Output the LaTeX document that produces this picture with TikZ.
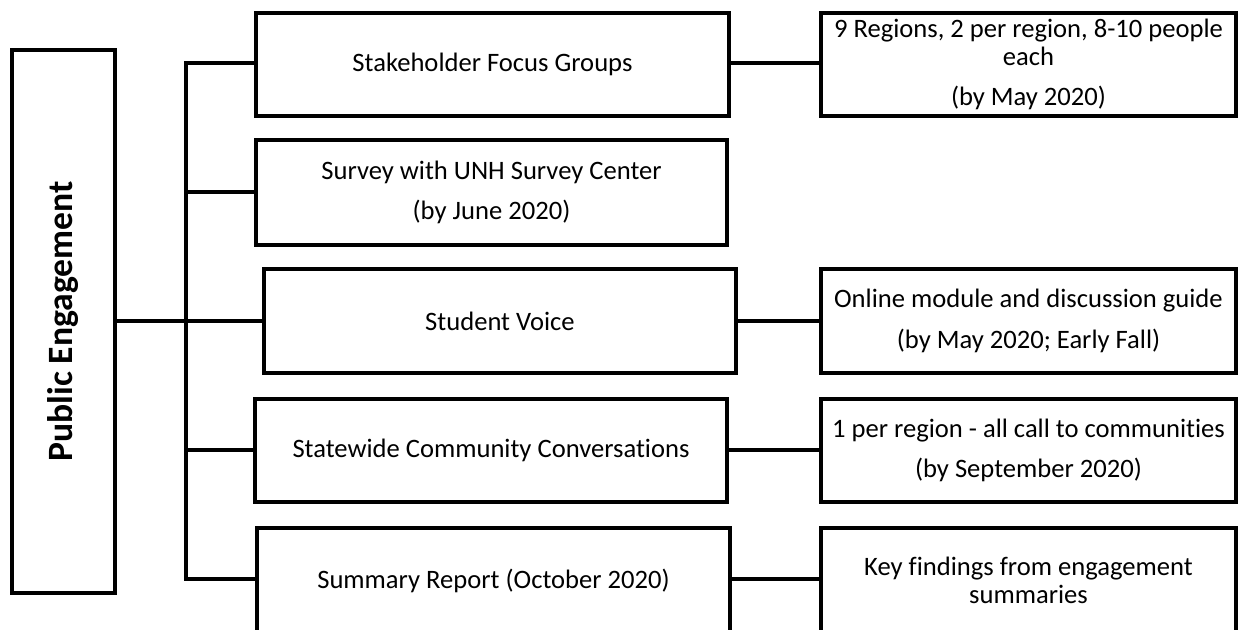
\documentclass[tikz,border=0pt]{standalone}
\usepackage{fontspec}
\setmainfont[Ligatures={NoCommon}]{Carlito}
\begin{document}
\begin{tikzpicture}[x=0.5pt,y=-0.5pt,
  box/.style={draw=black,line width=2pt,fill=white,inner sep=0pt,
    align=center,font=\fontsize{13.3}{13.7}\selectfont},
  link/.style={draw=black,line width=2pt}]
\useasboundingbox (0,0) rectangle (1239,630);
\clip (0,0) rectangle (1239,630);
\fill[white] (0,0) rectangle (1239,630);

% root box
\node[box,minimum width=51.5pt,minimum height=271.5pt] (root) at (63.5,321.5)
  {\rotatebox{90}{\fontsize{17.8}{19}\selectfont\bfseries Public Engagement}};

% activity boxes
\node[box,minimum width=236.5pt,minimum height=51.5pt] (b1) at (492.5,64.5) {Stakeholder Focus Groups};
\node[box,minimum width=235.5pt,minimum height=52.5pt] (b2) at (491.5,192.5) {Survey with UNH Survey Center\\[6.5pt](by June 2020)};
\node[box,minimum width=236pt,minimum height=52pt] (b3) at (500,321) {Student Voice};
\node[box,minimum width=236pt,minimum height=51.5pt] (b4) at (491,450.5) {Statewide Community Conversations};
\node[box,minimum width=236.5pt,minimum height=52.5pt] (b5) at (493.5,580.5) {Summary Report (October 2020)};

% detail boxes
\node[box,minimum width=207.5pt,minimum height=51.5pt] (r1) at (1028.5,64.5) {9 Regions, 2 per region, 8-10 people\\each\\[6.5pt](by May 2020)};
\node[box,minimum width=207.5pt,minimum height=52pt] (r3) at (1028.5,321) {Online module and discussion guide\\[6.5pt](by May 2020; Early Fall)};
\node[box,minimum width=207.5pt,minimum height=51.5pt] (r4) at (1028.5,450.5) {1 per region - all call to communities\\[6.5pt](by September 2020)};
\node[box,minimum width=207.5pt,minimum height=52.5pt] (r5) at (1028.5,580.5) {Key findings from engagement\\summaries};

% trunk
\coordinate (ttop) at (186,63);
\coordinate (tbot) at (186,579);
\draw[link,line cap=rect] (ttop) -- (tbot);

% branches from trunk
\draw[link] (root.east) -- (root.east -| ttop);
\draw[link] (b1.west |- ttop) -- (ttop);
\draw[link] (b2.west) -- (b2.west -| ttop);
\draw[link] (b3.west) -- (b3.west -| ttop);
\draw[link] (b4.west) -- (b4.west -| ttop);
\draw[link] (b5.west |- tbot) -- (tbot);

% links to detail boxes
\draw[link] (b1.east |- ttop) -- (r1.west |- ttop);
\draw[link] (b3.east) -- (r3.west);
\draw[link] (b4.east) -- (r4.west);
\draw[link] (b5.east |- tbot) -- (r5.west |- tbot);
\end{tikzpicture}
\end{document}
